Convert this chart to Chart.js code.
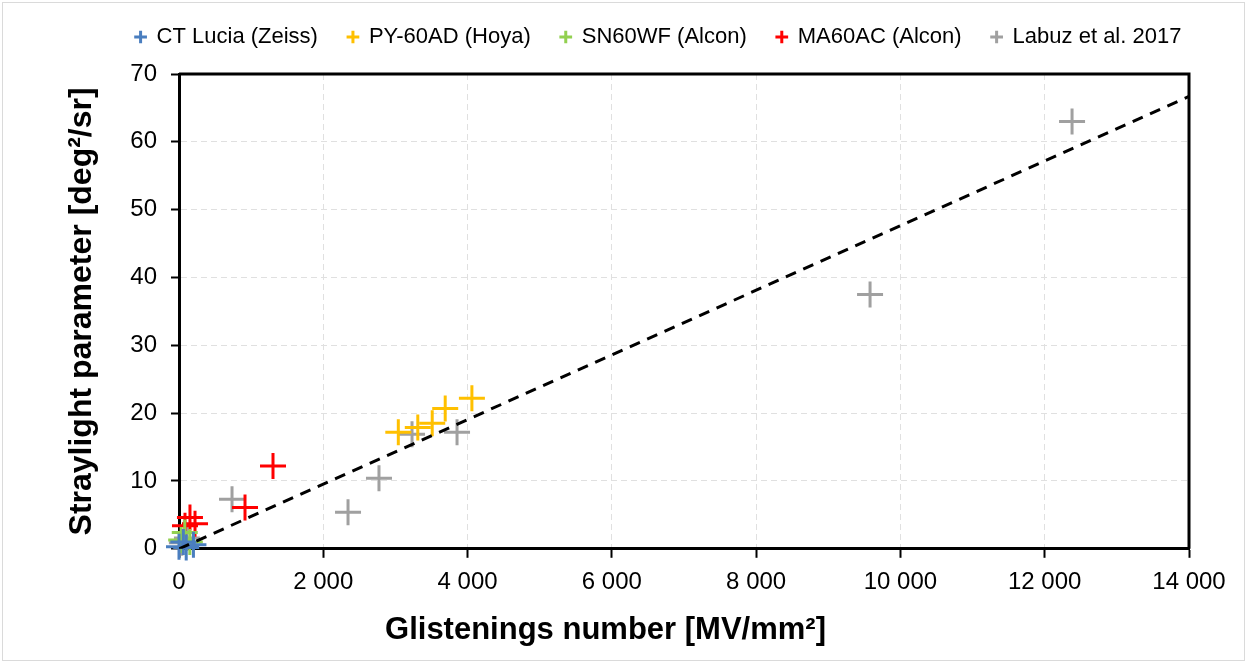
<!DOCTYPE html>
<html>
<head>
<meta charset="utf-8">
<script src="https://cdn.jsdelivr.net/npm/chart.js@4.4.1/dist/chart.umd.min.js"></script>
<style>
  body { margin: 0; background: #fff; }
  #wrap { position: relative; width: 1247px; height: 663px; }
  #frame { position: absolute; left: 2px; top: 2px; right: 2px; bottom: 2px; border: 1px solid #dadada; pointer-events: none; }
</style>
</head>
<body>
<div id="wrap">
  <canvas id="myChart" width="1247" height="663"></canvas>
  <div id="frame"></div>
</div>
<script>
'use strict';
let seriesNames = ['CT Lucia (Zeiss)', 'PY-60AD (Hoya)', 'SN60WF (Alcon)', 'MA60AC (Alcon)', 'Labuz et al. 2017'];
let seriesColors = ['#4a7ebf', '#ffc000', '#92d050', '#ff0000', '#a0a0a0'];

let luciaX = [0, 100, 60, 200];
let luciaY = [0.3, 0.2, 1.0, 0.6];
let hoyaX = [3040, 3310, 3510, 3690, 4060];
let hoyaY = [17.2, 17.9, 18.5, 20.7, 22.2];
let sn60X = [30, 80, 150];
let sn60Y = [1.3, 2.4, 1.0];
let ma60X = [83, 152, 222, 915, 1303];
let ma60Y = [3.4, 4.6, 3.7, 6.1, 12.2];
let labuzX = [40, 110, 735, 2343, 2772, 3230, 3854, 9579, 12379];
let labuzY = [0.9, 1.6, 7.3, 5.4, 10.4, 16.9, 17.2, 37.5, 63.0];
let fitX = [0, 14000];
let fitY = [0, 66.7];

let xMin = 0, xMax = 14000, xStep = 2000;
let yMin = 0, yMax = 70, yStep = 10;
let xTitle = 'Glistenings number [MV/mm²]';
let yTitle = 'Straylight parameter [deg²/sr]';

function toPoints(xs, ys) {
    return xs.map((x, i) => ({ x: x, y: ys[i] }));
}

let allX = [luciaX, hoyaX, sn60X, ma60X, labuzX];
let allY = [luciaY, hoyaY, sn60Y, ma60Y, labuzY];
let datasets = [];
for (let i = 0; i < seriesNames.length; i++) {
    datasets.push({
        label: seriesNames[i],
        data: toPoints(allX[i], allY[i]),
        pointStyle: 'cross',
        pointRadius: 13,
        pointHoverRadius: 13,
        borderWidth: 3,
        borderColor: seriesColors[i],
        backgroundColor: seriesColors[i],
        clip: false
    });
}
datasets.push({
    label: 'fit',
    data: toPoints(fitX, fitY),
    showLine: true,
    pointRadius: 0,
    borderColor: '#000',
    borderWidth: 3,
    borderDash: [11, 8],
    order: -1
});

// legend height, shift of legend/title, top+right frame of the plot
let layoutFix = {
    id: 'layoutFix',
    afterInit(chart) {
        let legend = chart.legend;
        let fit = legend.fit;
        legend.fit = function () {
            fit.call(this);
            this.height = 78;
        };
    },
    afterLayout(chart) {
        chart.legend.left += 35;
        chart.legend.right += 35;
        chart.titleBlock.left -= 18;
        chart.titleBlock.right -= 18;
    },
    beforeDatasetsDraw(chart) {
        let a = chart.chartArea;
        let ctx = chart.ctx;
        ctx.save();
        ctx.strokeStyle = '#000';
        ctx.lineWidth = 3;
        ctx.beginPath();
        ctx.moveTo(a.left, a.top);
        ctx.lineTo(a.right, a.top);
        ctx.lineTo(a.right, a.bottom);
        ctx.stroke();
        ctx.restore();
    }
};

Chart.defaults.font.family = '"Liberation Sans", Arial, sans-serif';
Chart.defaults.color = '#000';

let ctx = document.getElementById('myChart').getContext('2d');
let myChart = new Chart(ctx, {
    type: 'scatter',
    data: { datasets: datasets },
    plugins: [layoutFix],
    options: {
        responsive: false,
        animation: false,
        devicePixelRatio: 1,
        layout: { padding: { top: -4, left: 0, right: 0, bottom: 0 } },
        plugins: {
            legend: {
                position: 'top',
                labels: {
                    usePointStyle: true,
                    boxWidth: 10,
                    boxHeight: 9,
                    padding: 30,
                    font: { size: 22 },
                    color: '#000',
                    filter: item => item.text !== 'fit'
                }
            },
            title: {
                display: true,
                position: 'bottom',
                text: xTitle,
                color: '#000',
                font: { size: 31, weight: 'bold' },
                padding: { top: 0, bottom: 14 }
            },
            tooltip: { enabled: false }
        },
        scales: {
            x: {
                type: 'linear',
                min: xMin,
                max: xMax,
                afterFit: function (scale) {
                    scale.height = 63;
                    scale.paddingRight = 58;
                },
                ticks: {
                    stepSize: xStep,
                    font: { size: 24 },
                    color: '#000',
                    padding: 10,
                    maxRotation: 0,
                    callback: v => String(v).replace(/\B(?=(\d{3})+(?!\d))/g, ' ')
                },
                grid: {
                    color: '#e0e0e0',
                    lineWidth: 1,
                    tickColor: '#000',
                    tickWidth: 2,
                    tickLength: 9
                },
                border: { display: true, color: '#000', width: 3, dash: [6, 4] }
            },
            y: {
                min: yMin,
                max: yMax,
                afterFit: function (scale) {
                    scale.width = 179;
                },
                title: {
                    display: true,
                    text: yTitle,
                    color: '#000',
                    font: { size: 32, weight: 'bold' },
                    padding: { top: 63, bottom: 0 }
                },
                ticks: {
                    stepSize: yStep,
                    font: { size: 24 },
                    color: '#000',
                    padding: 14
                },
                grid: {
                    color: '#e0e0e0',
                    lineWidth: 1,
                    tickColor: '#000',
                    tickWidth: 2,
                    tickLength: 8
                },
                border: { display: true, color: '#000', width: 3, dash: [6, 4] }
            }
        }
    }
});
</script>
</body>
</html>
